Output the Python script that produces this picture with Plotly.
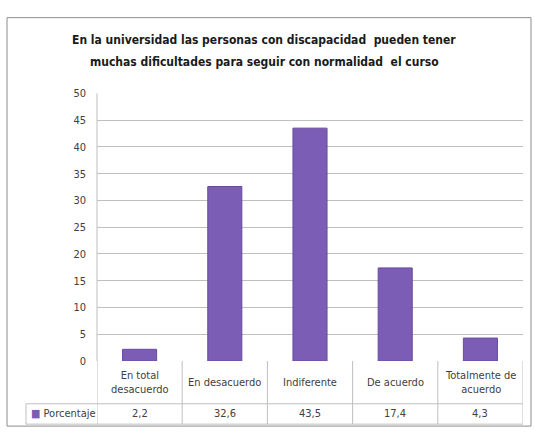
import plotly.graph_objects as go

categories = ["En total<br>desacuerdo", "En desacuerdo", "Indiferente", "De acuerdo", "Totalmente de<br>acuerdo"]
values = [2.2, 32.6, 43.5, 17.4, 4.3]
value_labels = ["2,2", "32,6", "43,5", "17,4", "4,3"]
series_name = "Porcentaje"
y_ticks = [0, 5, 10, 15, 20, 25, 30, 35, 40, 45, 50]
title_lines = ["En la universidad las personas con discapacidad  pueden tener",
               "muchas dificultades para seguir con normalidad  el curso"]

W, H = 534, 436
BAR = "#7b5db5"
GRID = "#bfbfbf"
TXT = "#404040"
FONT = "DejaVu Sans Condensed, Liberation Sans Narrow, Open Sans, sans-serif"

def px(x):
    return x / W

def py(y):
    return 1 - y / H

plot_l, plot_r, plot_t, plot_b = 97, 523, 90, 366
row1_b, row2_b = 410, 431
leg_l = 26

xs = list(range(len(categories)))

fig = go.Figure()
fig.add_trace(go.Bar(
    x=xs, y=values, name=series_name, width=0.4,
    marker=dict(color=BAR, line=dict(color="#6a4b9e", width=1)),
    showlegend=False,
))

shapes = []
shapes.append(dict(type="rect", xref="paper", yref="paper", x0=px(7), x1=px(531), y0=py(433), y1=py(12),
                   line=dict(color="#8c8c8c", width=1), fillcolor="rgba(0,0,0,0)", layer="below"))
for yy in [row1_b, row2_b]:
    shapes.append(dict(type="line", xref="paper", yref="paper", x0=px(leg_l), x1=px(plot_r), y0=py(yy), y1=py(yy),
                       line=dict(color=GRID, width=1)))
shapes.append(dict(type="line", xref="paper", yref="paper", x0=px(leg_l), x1=px(leg_l), y0=py(row1_b), y1=py(row2_b),
                   line=dict(color=GRID, width=1)))
for i in range(len(categories) + 1):
    shapes.append(dict(type="line", xref="x", yref="paper", x0=i - 0.5, x1=i - 0.5,
                       y0=py(row2_b), y1=py(plot_b), line=dict(color=GRID, width=1)))
shapes.append(dict(type="line", xref="paper", yref="paper", x0=px(plot_l), x1=px(plot_l), y0=py(plot_b), y1=py(plot_t),
                   line=dict(color=GRID, width=1)))

annotations = []
for i, (c, v) in enumerate(zip(categories, value_labels)):
    annotations.append(dict(x=i, xref="x", y=py((plot_b + row1_b) / 2), yref="paper", text=c, showarrow=False,
                            font=dict(family=FONT, size=11, color=TXT), xanchor="center", yanchor="middle"))
    annotations.append(dict(x=i, xref="x", y=py((row1_b + row2_b) / 2), yref="paper", text=v, showarrow=False,
                            font=dict(family=FONT, size=11, color=TXT), xanchor="center", yanchor="middle"))
annotations.append(dict(x=px(leg_l + 3), xref="paper", y=py((row1_b + row2_b) / 2), yref="paper",
                        text=f"<span style='color:{BAR}'>■</span> {series_name}", showarrow=False,
                        font=dict(family=FONT, size=11, color=TXT), xanchor="left", yanchor="middle"))
for line, yy in zip(title_lines, [35, 58]):
    annotations.append(dict(x=px(264), xref="paper", y=py(yy), yref="paper", text=f"<b>{line}</b>",
                            showarrow=False, font=dict(family=FONT, size=12, color="#1a1a1a"),
                            xanchor="center", yanchor="middle"))

fig.update_layout(
    width=W, height=H, autosize=False,
    margin=dict(l=0, r=0, t=0, b=0),
    paper_bgcolor="white", plot_bgcolor="white",
    xaxis=dict(domain=[px(plot_l), px(plot_r)], range=[-0.5, len(categories) - 0.5],
               showticklabels=False, showgrid=False, zeroline=False, fixedrange=True),
    yaxis=dict(domain=[py(plot_b), py(plot_t)], range=[0, 50], tickvals=y_ticks,
               ticktext=[str(t) for t in y_ticks], showgrid=True, gridcolor=GRID, gridwidth=1,
               zeroline=False, ticks="", ticklabelstandoff=10,
               tickfont=dict(family=FONT, size=11, color=TXT)),
    shapes=shapes,
    annotations=annotations,
)

fig.write_html("out.html")
